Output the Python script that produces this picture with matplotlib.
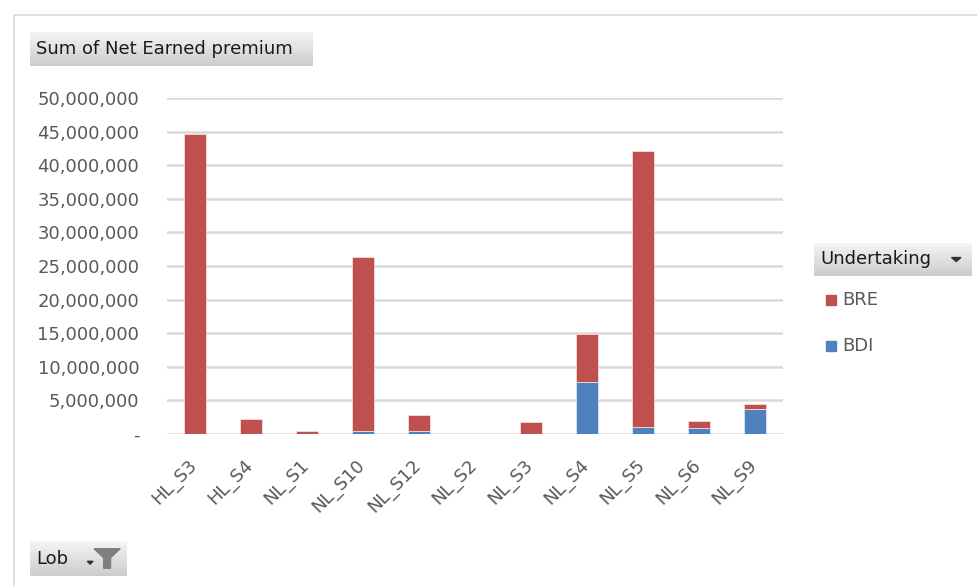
import numpy as np
import matplotlib.pyplot as plt
import matplotlib.transforms as mtransforms
from matplotlib.patches import Polygon, Rectangle
from matplotlib.lines import Line2D

# Net earned premium per line of business, split by undertaking
lobs = ['HL_S3', 'HL_S4', 'NL_S1', 'NL_S10', 'NL_S12', 'NL_S2',
        'NL_S3', 'NL_S4', 'NL_S5', 'NL_S6', 'NL_S9']
bdi = [0, 0, 0, 450000, 450000, 0, 0, 7750000, 1000000, 850000, 3700000]
bre = [44600000, 2200000, 450000, 25900000, 2350000, 0,
       1800000, 7150000, 41100000, 1150000, 760000]
yticks = list(range(0, 50000001, 5000000))

W, H = 977, 586
fig = plt.figure(figsize=(W / 100, H / 100), dpi=100)
plt.rcParams['font.family'] = ['DejaVu Sans']

def fx(px):
    return px / W

def fy(py):
    return 1 - py / H

# chart area border
fig.add_artist(Line2D([fx(14), 1], [fy(15), fy(15)], color='#D9D9D9', lw=1.2))
fig.add_artist(Line2D([fx(14), fx(14)], [fy(15), 0], color='#D9D9D9', lw=1.2))

ax = fig.add_axes([fx(167), fy(434), fx(783 - 167), (434 - 98) / H])
x = np.arange(len(lobs))
ax.bar(x, bdi, width=0.41, color='#4F81BD', edgecolor='#DDE6F2', linewidth=0.6, zorder=3)
ax.bar(x, bre, width=0.41, bottom=bdi, color='#C0504D', edgecolor='#F2DCDB', linewidth=0.6, zorder=3)

ax.set_xlim(-0.5, len(lobs) - 0.5)
ax.set_ylim(0, 50000000)
ax.set_yticks(yticks)
ax.set_yticklabels(['-'] + ['{:,}'.format(v) for v in yticks[1:]])
ax.yaxis.grid(True, color='#D9D9D9', lw=1.8, zorder=0)
for s in ax.spines.values():
    s.set_visible(False)
ax.tick_params(axis='y', length=0, pad=20, labelsize=13, labelcolor='#595959')
ax.tick_params(axis='x', length=0, pad=16, labelsize=13, labelcolor='#595959')
ax.set_xticks(x)
ax.set_xticklabels(lobs, rotation=45, ha='right', va='top', rotation_mode='anchor')
shift = mtransforms.ScaledTranslation(-0.075, 0, fig.dpi_scale_trans)
for lbl in ax.get_xticklabels():
    lbl.set_transform(lbl.get_transform() + shift)

def button(x0, y0, x1, y1, text, size=13):
    bax = fig.add_axes([fx(x0), fy(y1), fx(x1 - x0), (y1 - y0) / H])
    grad = np.linspace(0.96, 0.80, 50).reshape(-1, 1)
    bax.imshow(np.dstack([grad, grad, grad]), aspect='auto', extent=[0, 1, 0, 1])
    bax.set_xlim(0, 1)
    bax.set_ylim(0, 1)
    bax.axis('off')
    bax.text(6 / (x1 - x0), 0.5, text, fontsize=size, color='#1A1A1A',
             va='center', ha='left')
    return bax

button(30, 32, 313, 66, 'Sum of Net Earned premium')

# legend header with dropdown arrow
lb = button(814, 243, 972, 276, 'Undertaking')
lb.add_patch(Polygon([[0.87, 0.56], [0.93, 0.56], [0.90, 0.44]], closed=True,
                     color='#333333'))

for yy, name, col in [(300, 'BRE', '#C0504D'), (346, 'BDI', '#4F81BD')]:
    fig.add_artist(Rectangle((fx(826), fy(yy + 5)), fx(10), 10 / H, color=col))
    fig.text(fx(842), fy(yy), name, fontsize=13, color='#595959', va='center')

# filter button for the category field
fb = button(30, 541, 127, 576, 'Lob')
fb.add_patch(Polygon([[0.59, 0.42], [0.65, 0.42], [0.62, 0.34]], closed=True,
                     color='#333333'))
fb.add_patch(Polygon([[0.66, 0.78], [0.93, 0.78], [0.83, 0.52], [0.83, 0.22],
                      [0.76, 0.22], [0.76, 0.52]], closed=True, color='#7F7F7F'))

fig.savefig('out.png', dpi=100)
